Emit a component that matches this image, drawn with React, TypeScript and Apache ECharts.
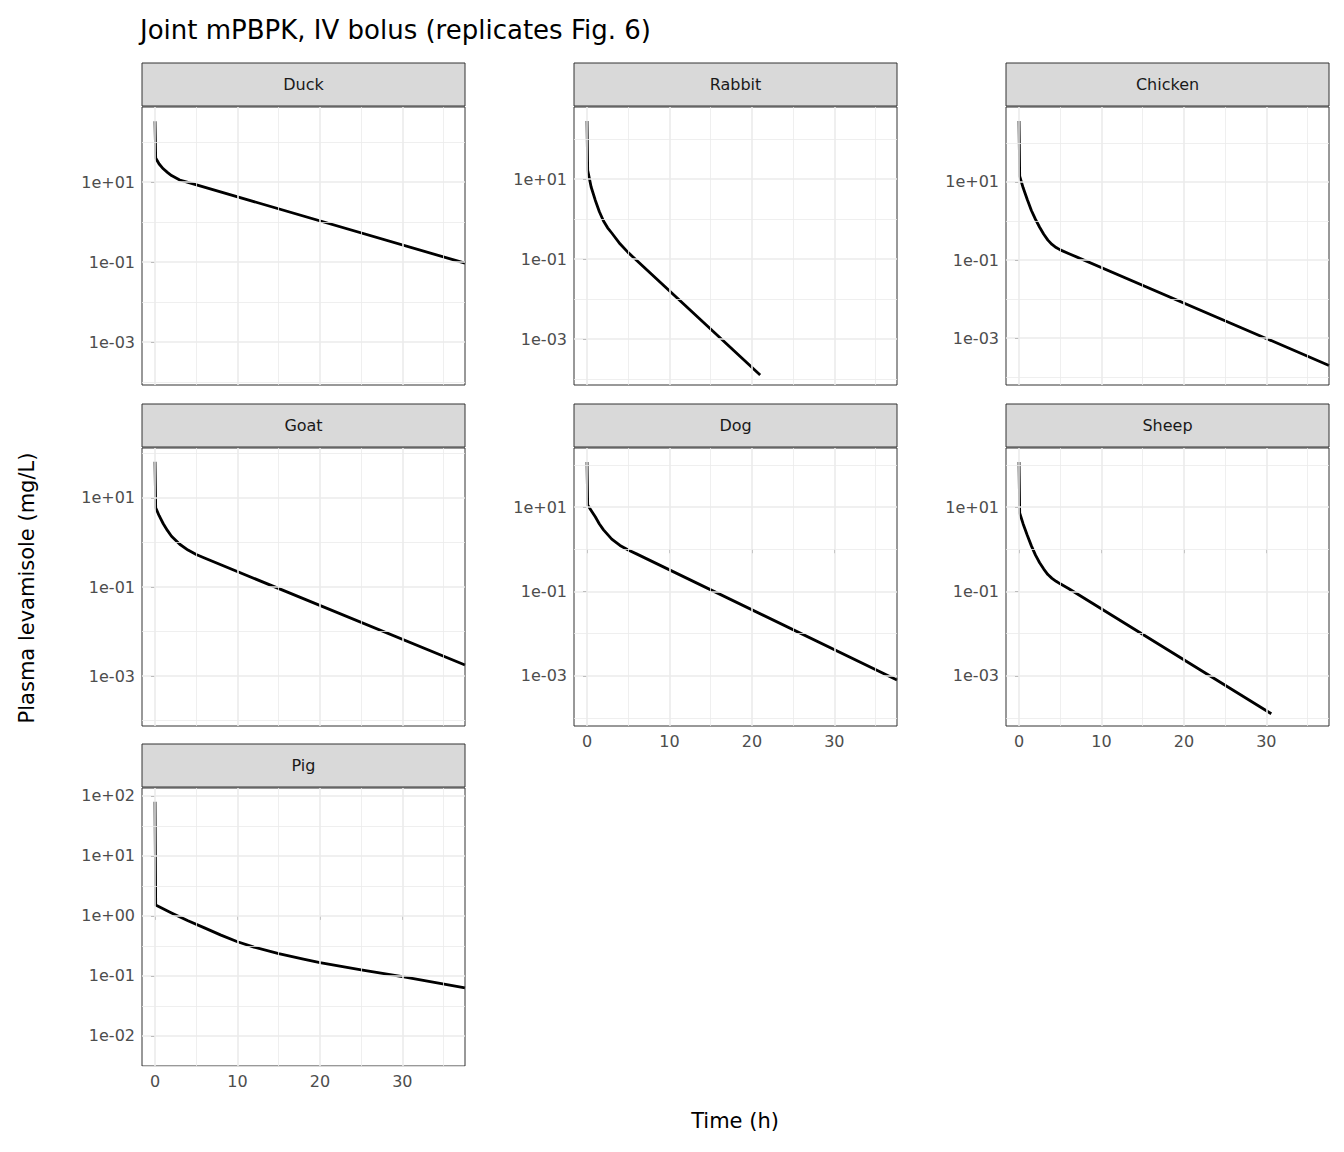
import { useEffect, useRef } from 'react'
import * as echarts from 'echarts'

// panels in facet order
const species = ['Duck', 'Rabbit', 'Chicken', 'Goat', 'Dog', 'Sheep', 'Pig']

// time points (h) and log10 concentration (mg/L)
const duckT = [0, 0.08, 0.5, 1, 1.5, 2, 3, 4, 37.6]
const duckY = [2.52, 1.6, 1.45, 1.33, 1.24, 1.16, 1.05, 0.99, -1.03]
const rabbitT = [0, 0.08, 0.5, 1, 1.5, 2, 2.5, 3, 4, 5, 21]
const rabbitY = [2.45, 1.22, 0.8, 0.47, 0.18, -0.05, -0.22, -0.35, -0.62, -0.84, -3.9]
const chickenT = [0, 0.08, 0.5, 1, 1.5, 2, 2.5, 3, 3.5, 4, 4.5, 5, 6, 37.6]
const chickenY = [2.56, 1.15, 0.85, 0.55, 0.27, 0.04, -0.16, -0.34, -0.49, -0.6, -0.68, -0.74, -0.83, -3.7]
const goatT = [0, 0.08, 0.5, 1, 1.5, 2, 3, 4, 5, 6, 37.6]
const goatY = [1.81, 0.78, 0.6, 0.42, 0.27, 0.14, -0.04, -0.17, -0.27, -0.35, -2.75]
const dogT = [0, 0.08, 0.5, 1, 1.5, 2, 3, 4, 5, 6, 37.6]
const dogY = [2.07, 1.05, 0.92, 0.77, 0.6, 0.46, 0.24, 0.09, -0.02, -0.11, -3.1]
const sheepT = [0, 0.08, 0.5, 1, 1.5, 2, 2.5, 3, 3.5, 4, 4.5, 5, 6, 30.6]
const sheepY = [2.07, 0.86, 0.6, 0.33, 0.08, -0.14, -0.32, -0.47, -0.6, -0.69, -0.76, -0.82, -0.93, -3.9]
const pigT = [0, 0.08, 2, 4, 6, 8, 10, 12, 15, 18, 20, 25, 30, 37.6]
const pigY = [1.9, 0.18, 0.05, -0.08, -0.2, -0.32, -0.43, -0.52, -0.63, -0.72, -0.78, -0.9, -1.01, -1.2]

// y ranges (log10) per panel
const yMins = [-4.075, -4.15, -4.2, -4.12, -4.19, -4.19, -2.5]
const yMaxs = [2.875, 2.8, 2.92, 2.12, 2.4, 2.4, 2.13]
const yBreaks = [
  [1, -1, -3], [1, -1, -3], [1, -1, -3],
  [1, -1, -3], [1, -1, -3], [1, -1, -3],
  [2, 1, 0, -1, -2],
]
const xBreaks = [0, 10, 20, 30]
const xMinor = [5, 15, 25, 35]

const seriesT = [duckT, rabbitT, chickenT, goatT, dogT, sheepT, pigT]
const seriesY = [duckY, rabbitY, chickenY, goatY, dogY, sheepY, pigY]

const colLefts = [142, 574, 1006]
const rowTops = [107, 448, 788]
const panelW = 323
const panelH = 278
const stripH = 43
const font = 'DejaVu Sans'

const fmt = (v: number) => {
  const e = Math.round(v)
  return `1e${e >= 0 ? '+' : '-'}${String(Math.abs(e)).padStart(2, '0')}`
}

export default function App() {
  const ref = useRef<HTMLDivElement>(null)

  useEffect(() => {
    document.body.style.margin = '0'
    if (!ref.current) return
    const chart = echarts.init(ref.current, undefined, { renderer: 'svg' })

    const grids: any[] = []
    const xAxes: any[] = []
    const yAxes: any[] = []
    const series: any[] = []
    const graphics: any[] = []
    const showX = [false, false, false, false, true, true, true]

    species.forEach((name, i) => {
      const col = i % 3
      const row = Math.floor(i / 3)
      const left = colLefts[col]
      const top = rowTops[row]
      grids.push({
        left, top, width: panelW, height: panelH,
        show: true, borderColor: '#333333', borderWidth: 1, backgroundColor: 'transparent', z: 5,
      })
      xAxes.push({
        gridIndex: i, type: 'value', min: -1.58, max: 37.6,
        axisLine: { show: false }, splitLine: { show: false },
        axisTick: { show: showX[i], length: 4, lineStyle: { color: '#333333' }, customValues: xBreaks },
        axisLabel: { show: showX[i], color: '#4d4d4d', fontSize: 16, fontFamily: font, margin: 7, customValues: xBreaks },
      })
      const yb = yBreaks[i]
      yAxes.push({
        gridIndex: i, type: 'value', min: yMins[i], max: yMaxs[i],
        axisLine: { show: false }, splitLine: { show: false },
        axisTick: { show: true, length: 4, lineStyle: { color: '#333333' }, customValues: yb },
        axisLabel: { color: '#4d4d4d', fontSize: 16, fontFamily: font, margin: 7, customValues: yb, formatter: fmt },
      })
      const step = yb[0] - yb[1]
      const yMinor: number[] = []
      for (let v = yb[0] + step / 2; v >= yMins[i]; v -= step) {
        if (v <= yMaxs[i]) yMinor.push(v)
      }
      const gl = (w: number) => ({ color: '#ebebeb', width: w, type: 'solid' })
      series.push({
        type: 'line', xAxisIndex: i, yAxisIndex: i, data: [], z: 1, silent: true,
        markLine: {
          silent: true, symbol: 'none', label: { show: false }, animation: false,
          data: [
            ...yMinor.map(v => ({ yAxis: v, lineStyle: gl(0.8) })),
            ...xMinor.map(v => ({ xAxis: v, lineStyle: gl(0.8) })),
            ...yb.map(v => ({ yAxis: v, lineStyle: gl(1.6) })),
            ...xBreaks.map(v => ({ xAxis: v, lineStyle: gl(1.6) })),
          ],
        },
      })
      series.push({
        type: 'line', xAxisIndex: i, yAxisIndex: i, z: 3,
        data: seriesT[i].map((t, k) => [t, seriesY[i][k]]),
        smooth: false, showSymbol: false,
        lineStyle: { color: '#000000', width: 2.8, join: 'round' },
      })
      graphics.push({
        type: 'rect', shape: { x: left, y: top - stripH - 1, width: panelW, height: stripH },
        style: { fill: '#d9d9d9', stroke: '#333333', lineWidth: 1 },
      })
      graphics.push({
        type: 'text', x: left + panelW / 2, y: top - stripH / 2 - 1,
        style: { text: name, fill: '#1a1a1a', fontSize: 16, fontFamily: font, align: 'center', verticalAlign: 'middle' },
      })
    })

    graphics.push({
      type: 'text', x: 140, y: 30,
      style: { text: 'Joint mPBPK, IV bolus (replicates Fig. 6)', fill: '#000', fontSize: 26, fontFamily: font, verticalAlign: 'middle' },
    })
    graphics.push({
      type: 'text', x: 735, y: 1121,
      style: { text: 'Time (h)', fill: '#000', fontSize: 21, fontFamily: font, align: 'center', verticalAlign: 'middle' },
    })
    graphics.push({
      type: 'text', x: 27, y: 588, rotation: Math.PI / 2,
      style: { text: 'Plasma levamisole (mg/L)', fill: '#000', fontSize: 21, fontFamily: font, align: 'center', verticalAlign: 'middle' },
    })

    chart.setOption({
      animation: false,
      backgroundColor: '#ffffff',
      grid: grids,
      xAxis: xAxes,
      yAxis: yAxes,
      series,
      graphic: graphics,
    })

    return () => chart.dispose()
  }, [])

  return <div ref={ref} style={{ width: 1344, height: 1152 }} />
}
